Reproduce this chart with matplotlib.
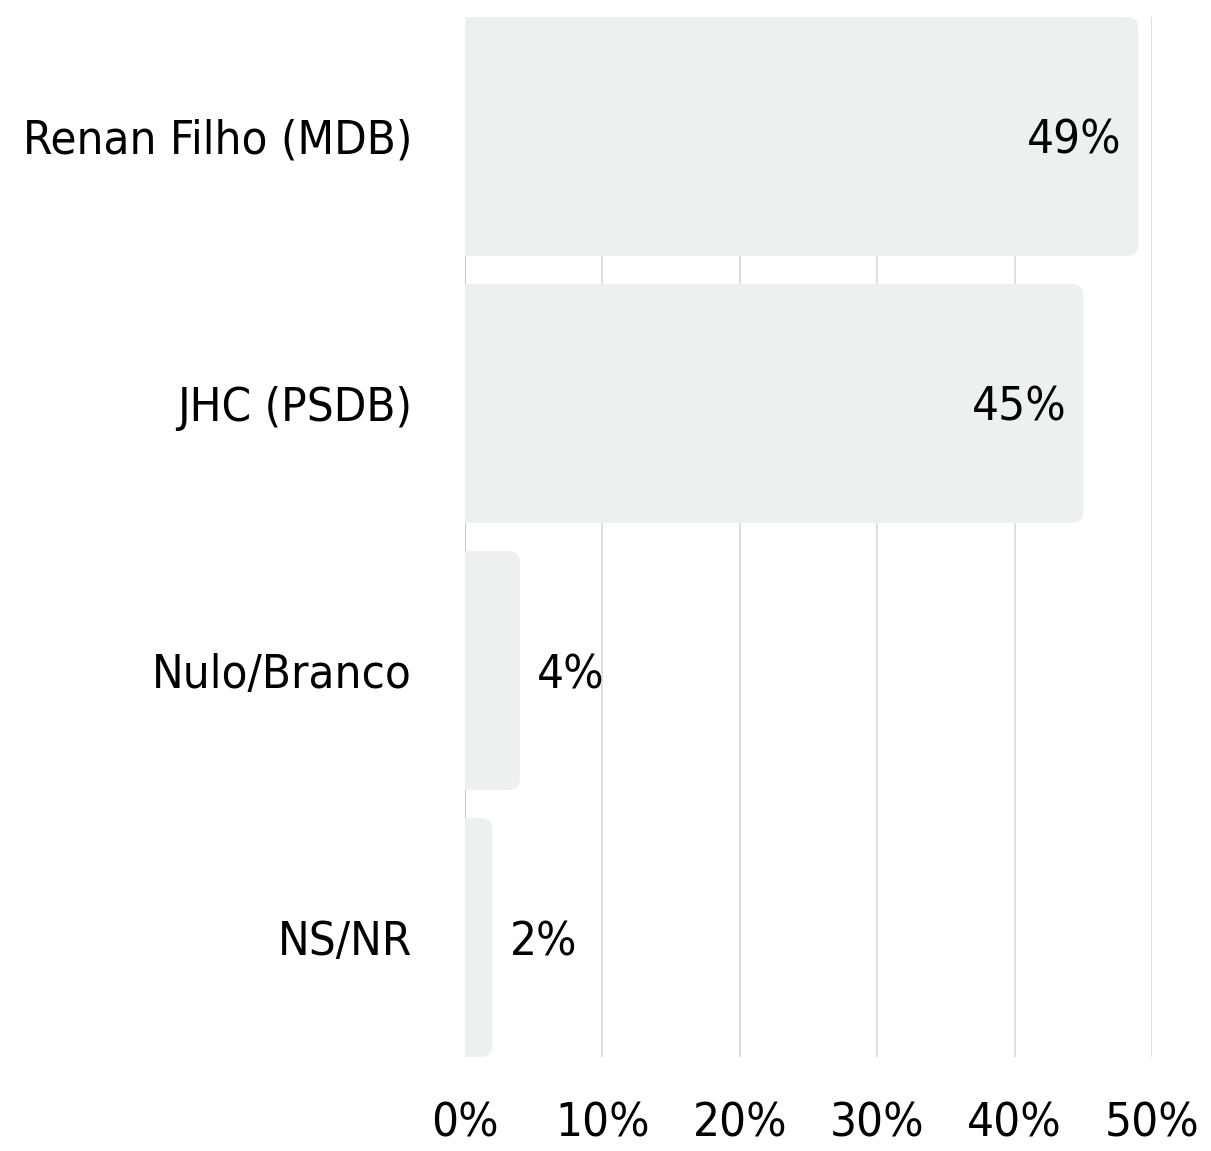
import matplotlib
matplotlib.use("Agg")
import matplotlib.pyplot as plt
from matplotlib.patches import FancyBboxPatch

categories = ["Renan Filho (MDB)", "JHC (PSDB)", "Nulo/Branco", "NS/NR"]
values = [49, 45, 4, 2]
ticks = [0, 10, 20, 30, 40, 50]
tick_labels = ["0%", "10%", "20%", "30%", "40%", "50%"]

BAR_COLOR = "#edf0f1"
GRID_COLOR = "#d9d9d9"

# narrow face, closest thing to the reference's condensed font
font = dict(family="DejaVu Sans", stretch="condensed", weight="normal")

fig = plt.figure(figsize=(12.11, 11.51), dpi=100)
ax = fig.add_axes([465 / 1211, 1 - 1057 / 1151, (1152 - 465) / 1211, (1057 - 17) / 1151])

h = 0.895
ax.set_xlim(0, 50)
ax.set_ylim(len(values) - 1 + h / 2, -h / 2)

px_x = 50 / (1152 - 465)
px_y = (len(values) - 1 + h) / (1057 - 17)
r = 12 * px_x

for x in ticks:
    ax.axvline(x, color="#bbbbbb" if x == 0 else GRID_COLOR, lw=1.2, zorder=0)

ax.barh(range(len(values)), [v - r for v in values], height=h, color=BAR_COLOR, zorder=2)
for i, v in enumerate(values):
    patch = FancyBboxPatch((0, i - h / 2), v, h,
                           boxstyle=f"round,pad=0,rounding_size={r}",
                           mutation_aspect=px_y / px_x,
                           fc=BAR_COLOR, ec="none", zorder=2)
    ax.add_patch(patch)
    if v > 10:
        ax.annotate(f"{v}%", (v, i), xytext=(-17, 0), textcoords="offset pixels",
                    ha="right", va="center_baseline", fontsize=34, zorder=3, **font)
    else:
        ax.annotate(f"{v}%", (v, i), xytext=(17, 0), textcoords="offset pixels",
                    ha="left", va="center_baseline", fontsize=34, zorder=3, **font)

ax.set_yticks(range(len(values)))
ax.set_yticklabels(categories, fontsize=34, **font)
ax.set_xticks(ticks)
ax.set_xticklabels(tick_labels, fontsize=34, **font)
ax.tick_params(axis="y", length=0, pad=38)
ax.tick_params(axis="x", length=0, pad=32)
for s in ax.spines.values():
    s.set_visible(False)

fig.savefig("out.png", dpi=100)
